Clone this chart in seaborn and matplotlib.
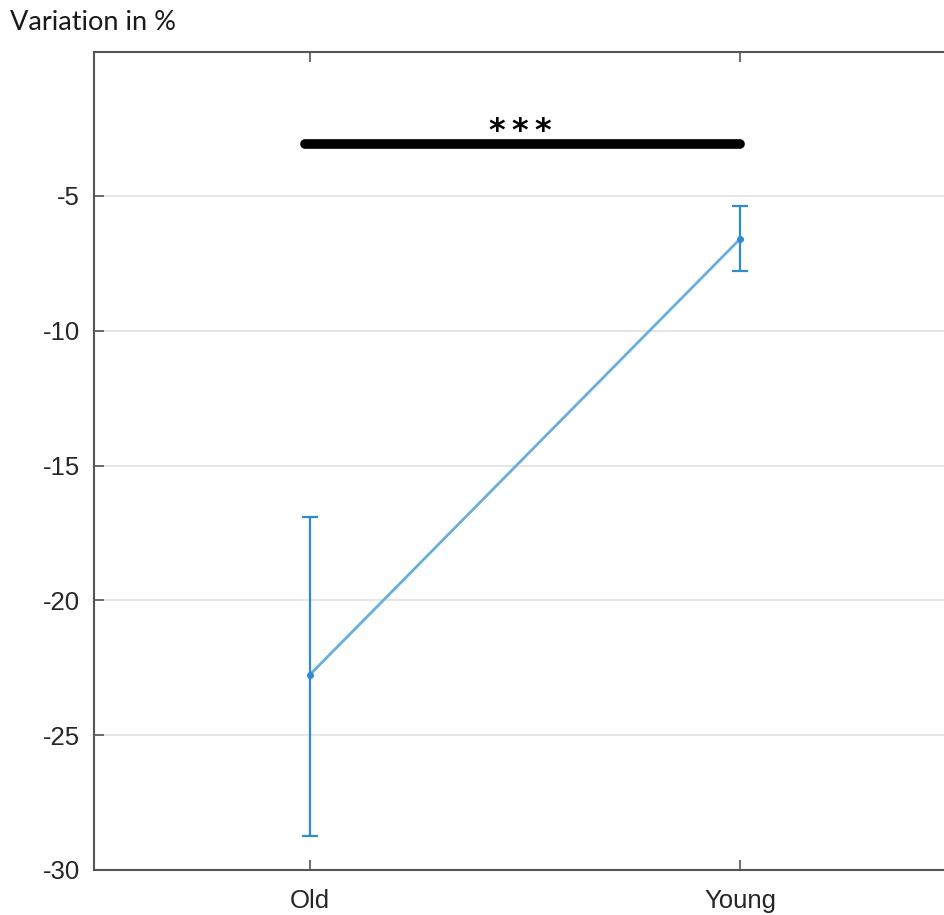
import matplotlib
matplotlib.use('Agg')
import matplotlib.pyplot as plt
import seaborn as sns

# Valores
groups = ['Old', 'Young']
means = [-22.77, -6.58]
err_low = [-28.74, -7.80]
err_high = [-16.91, -5.37]
sig_y = -3.08
sig_label = '*\u2009*\u2009*'
yticks = [-30, -25, -20, -15, -10, -5]

line_color = '#6aaede'
err_color = '#2e8bd2'

sns.set_theme(style='white')
plt.rcParams['font.family'] = ['Liberation Sans', 'DejaVu Sans']

fig = plt.figure(figsize=(9.44, 9.15), dpi=100)
ax = fig.add_axes([0.0996, 0.0492, 0.9131, 0.894])

# Linha que liga as medias
sns.pointplot(x=groups, y=means, color=line_color, markers='', linewidth=2,
              errorbar=None, ax=ax)

# Barras de erro
lower = [m - l for m, l in zip(means, err_low)]
upper = [h - m for m, h in zip(means, err_high)]
ax.errorbar(range(len(groups)), means, yerr=[lower, upper], fmt='o',
            color=err_color, ecolor=err_color, elinewidth=1.6, capsize=6,
            capthick=1.6, markersize=4, zorder=3)

# Barra de significancia
ax.plot([-0.01, 1.0], [sig_y, sig_y], color='black', lw=7,
        solid_capstyle='round', zorder=4)
ax.text(0.49, sig_y - 0.1, sig_label, ha='center', va='bottom',
        fontsize=23, fontweight='bold', color='black',
        family=['DejaVu Sans'])

ax.set_xlim(-0.5, 1.5)
ax.set_ylim(-30, 0.34)
ax.set_yticks(yticks)
ax.set_yticklabels([str(t) for t in yticks])
ax.yaxis.grid(True, color='#e2e2e2', linewidth=1.2)
ax.xaxis.grid(False)
ax.set_xlabel('')
ax.set_ylabel('')

for s in ax.spines.values():
    s.set_color('#555555')
    s.set_linewidth(1.5)

ax.tick_params(axis='both', direction='in', length=7, width=1.2,
               color='#555555', labelsize=18.5, labelcolor='#262626',
               top=True, right=True, bottom=True, left=True)
ax.tick_params(axis='y', pad=10)
ax.tick_params(axis='x', pad=14)

fig.text(10 / 944, 1 - 23 / 915, 'Variation in %', ha='left', va='center',
         fontsize=19.5, color='#1a1a1a', family=['Lato', 'DejaVu Sans'])

fig.savefig('out.png', dpi=100)
